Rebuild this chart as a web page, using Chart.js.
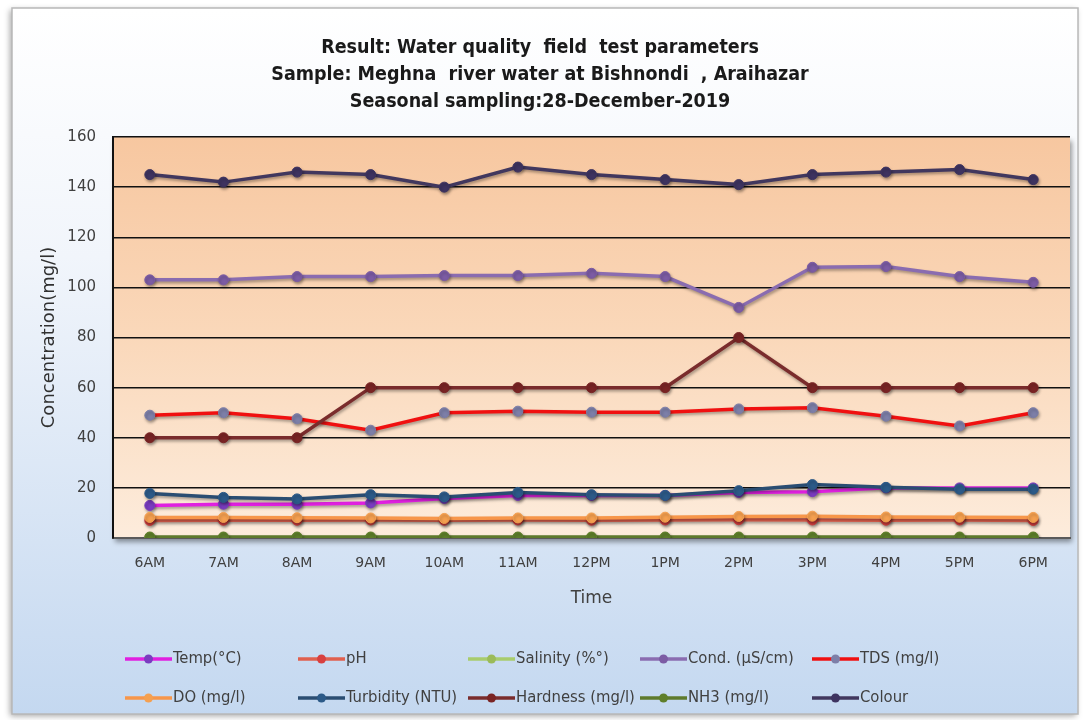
<!DOCTYPE html>
<html>
<head>
<meta charset="utf-8">
<title>Water quality field test parameters</title>
<script src="https://cdn.jsdelivr.net/npm/chart.js@4/dist/chart.umd.min.js"></script>
<style>
  body { margin: 0; background: #ffffff; }
  canvas { display: block; }
</style>
</head>
<body>
<canvas id="graphique" width="1083" height="720"></canvas>
<script>

const heures = ['6AM', '7AM', '8AM', '9AM', '10AM', '11AM', '12PM', '1PM', '2PM', '3PM', '4PM', '5PM', '6PM'];

const temp = [13, 13.5, 13.5, 14, 15.8, 17, 17, 17, 18.2, 18.5, 20, 20, 20];
const ph = [7, 7.1, 7.1, 7.2, 7.1, 7.2, 7.1, 7.2, 7.3, 7.2, 7.1, 7.2, 7];
const salinite = [0.1, 0.1, 0.1, 0.1, 0.1, 0.1, 0.1, 0.1, 0.1, 0.1, 0.1, 0.1, 0.1];
const conductivite = [103, 103, 104.3, 104.3, 104.7, 104.7, 105.6, 104.3, 92, 108, 108.3, 104.3, 102];
const tds = [49, 50, 47.6, 43, 50, 50.6, 50.2, 50.2, 51.5, 52, 48.6, 44.7, 50];
const oxygene = [8.2, 8.2, 8.1, 8, 7.8, 8, 8, 8.3, 8.6, 8.7, 8.4, 8.3, 8.2];
const turbidite = [17.8, 16.2, 15.6, 17.3, 16.4, 18.2, 17.3, 17, 18.9, 21.3, 20.2, 19.5, 19.5];
const durete = [40, 40, 40, 60, 60, 60, 60, 60, 80, 60, 60, 60, 60];
const nh3 = [0.4, 0.4, 0.4, 0.4, 0.4, 0.4, 0.4, 0.4, 0.4, 0.4, 0.4, 0.4, 0.4];
const couleur = [145, 142, 146, 145, 140, 148, 145, 143, 141, 145, 146, 147, 143];

const yTicks = [0, 20, 40, 60, 80, 100, 120, 140, 160];

const titre = [
    'Result: Water quality  field  test parameters',
    'Sample: Meghna  river water at Bishnondi  , Araihazar',
    'Seasonal sampling:28-December-2019'
];

const police = "'DejaVu Sans Condensed', 'Liberation Sans', sans-serif";
const policeLarge = "'DejaVu Sans', 'Liberation Sans', sans-serif";

const series = [
    { label: 'Temp(°C)', data: temp, color: '#e020e0', point: '#7a3cc0' },
    { label: 'pH', data: ph, color: '#e0604e', point: '#d84040' },
    { label: 'Salinity (%°)', data: salinite, color: '#a8cc6c', point: '#9bbb59' },
    { label: 'Cond. (µS/cm)', data: conductivite, color: '#8a6cb0', point: '#7c5ca4' },
    { label: 'TDS (mg/l)', data: tds, color: '#f01010', point: '#7d7fa8' },
    { label: 'DO (mg/l)', data: oxygene, color: '#f7964a', point: '#f5a050' },
    { label: 'Turbidity (NTU)', data: turbidite, color: '#2a4d72', point: '#2c5a88' },
    { label: 'Hardness (mg/l)', data: durete, color: '#7a2c2c', point: '#7a2424' },
    { label: 'NH3 (mg/l)', data: nh3, color: '#5e7a2c', point: '#5f7f2a' },
    { label: 'Colour', data: couleur, color: '#41375e', point: '#3e3360' }
];

// fond du cadre et de la zone de tracé
const fond = {
    id: 'fond',
    beforeDraw(chart) {
        const ctx = chart.ctx;
        const area = chart.chartArea;
        ctx.save();
        ctx.fillStyle = '#ffffff';
        ctx.fillRect(0, 0, chart.width, chart.height);

        const g = ctx.createLinearGradient(0, 10, 0, 715);
        g.addColorStop(0, '#ffffff');
        g.addColorStop(0.35, '#f1f5fb');
        g.addColorStop(1, '#c4d8f0');
        ctx.shadowColor = 'rgba(0,0,0,0.35)';
        ctx.shadowBlur = 6;
        ctx.shadowOffsetX = -2;
        ctx.shadowOffsetY = 2;
        ctx.fillStyle = g;
        ctx.fillRect(12, 8, 1066, 706);
        ctx.shadowColor = 'transparent';
        ctx.strokeStyle = '#b8b8b8';
        ctx.lineWidth = 1.5;
        ctx.strokeRect(12, 8, 1066, 706);

        const p = ctx.createLinearGradient(0, area.top, 0, area.bottom);
        p.addColorStop(0, '#f7c7a0');
        p.addColorStop(0.5, '#fad8ba');
        p.addColorStop(1, '#fdecdc');
        ctx.shadowColor = 'rgba(0,0,0,0.4)';
        ctx.shadowBlur = 5;
        ctx.shadowOffsetX = 2;
        ctx.shadowOffsetY = 4;
        ctx.fillStyle = p;
        ctx.fillRect(area.left, area.top, area.right - area.left, area.bottom - area.top);
        ctx.restore();
    }
};

// ombre des courbes
const ombre = {
    id: 'ombre',
    beforeDatasetsDraw(chart) {
        const ctx = chart.ctx;
        ctx.save();
        ctx.shadowColor = 'rgba(0,0,0,0.35)';
        ctx.shadowBlur = 3;
        ctx.shadowOffsetX = 1;
        ctx.shadowOffsetY = 2;
    },
    afterDatasetsDraw(chart) {
        chart.ctx.restore();
    }
};

// légende en deux lignes de cinq colonnes
const legende = {
    id: 'legende',
    afterDraw(chart) {
        const ctx = chart.ctx;
        const colonnes = [125, 298, 468, 640, 812];
        const lignes = [659, 698];
        ctx.save();
        ctx.font = '16.5px ' + police;
        ctx.textBaseline = 'middle';
        chart.data.datasets.forEach((ds, i) => {
            const x = colonnes[i % 5];
            const y = lignes[Math.floor(i / 5)];
            ctx.strokeStyle = ds.borderColor;
            ctx.lineWidth = 3.5;
            ctx.beginPath();
            ctx.moveTo(x, y);
            ctx.lineTo(x + 47, y);
            ctx.stroke();
            ctx.fillStyle = ds.pointBackgroundColor;
            ctx.beginPath();
            ctx.arc(x + 23.5, y, 4.5, 0, Math.PI * 2);
            ctx.fill();
            ctx.fillStyle = '#404040';
            ctx.fillText(ds.label, x + 48, y);
        });
        ctx.restore();
    }
};

new Chart(document.querySelector('#graphique'), {

    type: 'line',
    data: {
        labels: heures,
        datasets: series.map((s, i) => ({
            label: s.label,
            data: s.data,
            borderColor: s.color,
            backgroundColor: s.color,
            pointBackgroundColor: s.point,
            pointBorderColor: s.point,
            borderWidth: 3.5,
            pointRadius: 5,
            pointBorderWidth: 1,
            tension: 0,
            order: series.length - i
        }))
    },
    options: {
        responsive: false,
        animation: false,
        layout: {
            padding: { left: 10, right: 13, top: 34, bottom: 108 }
        },
        plugins: {
            legend: { display: false },
            tooltip: { enabled: false },
            title: {
                display: true,
                text: titre,
                color: '#1a1a1a',
                font: { family: police, size: 19.5, weight: 'bold', lineHeight: 27 / 19.5 },
                padding: { top: 0, bottom: 22 }
            }
        },
        scales: {
            x: {
                offset: true,
                grid: { display: false, drawTicks: false },
                border: { color: '#5a5a5a', width: 2 },
                ticks: {
                    color: '#404040',
                    font: { family: policeLarge, size: 14 },
                    padding: 17,
                    maxRotation: 0
                },
                title: {
                    display: true,
                    text: 'Time',
                    color: '#404040',
                    font: { family: policeLarge, size: 17 },
                    padding: { top: 0, bottom: 3 }
                },
                afterFit(scale) {
                    scale.height = 74;
                }
            },
            y: {
                min: 0,
                max: 160,
                afterBuildTicks(scale) {
                    scale.ticks = yTicks.map(v => ({ value: v }));
                },
                grid: { color: '#111111', lineWidth: 1.4, drawTicks: false },
                border: { color: '#111111', width: 2 },
                ticks: {
                    color: '#404040',
                    font: { family: policeLarge, size: 15 },
                    padding: 17
                },
                title: {
                    display: true,
                    text: 'Concentration(mg/l)',
                    color: '#303030',
                    font: { family: policeLarge, size: 18 },
                    padding: { top: 29, bottom: 0 }
                },
                afterFit(scale) {
                    scale.width = 103;
                }
            }
        }
    },
    plugins: [fond, ombre, legende]

});

</script>
</body>
</html>
